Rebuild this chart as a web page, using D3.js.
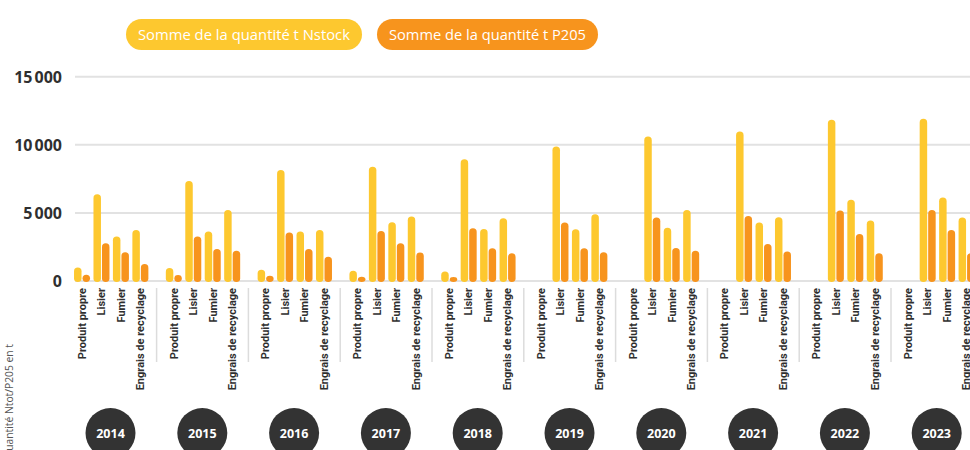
<!DOCTYPE html>
<html><head><meta charset="utf-8">
<script src="https://cdn.jsdelivr.net/npm/d3@7"></script>
<style>html,body{margin:0;padding:0;background:#fff;}svg{display:block;}</style>
</head><body><svg id="chart" width="970" height="450"></svg>
<script>
const years = [2014, 2015, 2016, 2017, 2018, 2019, 2020, 2021, 2022, 2023];
const categories = ["Produit propre", "Lisier", "Fumier", "Engrais de recyclage"];
const seriesNames = ["Somme de la quantité t Nstock", "Somme de la quantité t P205"];
const yTicks = [0, 5000, 10000, 15000];
const yTitle = "Quantité Ntot/P205 en t";

// Nstock values by category (one value per year)
const nProduitPropre = [1000, 950, 830, 760, 690, 0, 0, 0, 0, 0];
const nLisier = [6370, 7350, 8160, 8400, 8950, 9880, 10610, 10980, 11840, 11910];
const nFumier = [3260, 3630, 3630, 4310, 3820, 3800, 3920, 4290, 5960, 6130];
const nEngrais = [3750, 5220, 3750, 4730, 4610, 4900, 5220, 4680, 4440, 4660];
// P205 values by category (one value per year)
const pProduitPropre = [460, 440, 390, 320, 290, 0, 0, 0, 0, 0];
const pLisier = [2770, 3260, 3560, 3680, 3870, 4290, 4660, 4780, 5170, 5220];
const pFumier = [2110, 2350, 2350, 2770, 2400, 2400, 2430, 2720, 3460, 3750];
const pEngrais = [1250, 2230, 1790, 2090, 2030, 2110, 2230, 2160, 2030, 2050];

const nByCat = [nProduitPropre, nLisier, nFumier, nEngrais];
const pByCat = [pProduitPropre, pLisier, pFumier, pEngrais];
const colors = ["#FDC82F", "#F7941D"];

const data = [];
years.forEach((yr, yi) => {
  categories.forEach((c, ci) => {
    data.push({year: yr, cat: c, series: 0, value: nByCat[ci][yi]});
    data.push({year: yr, cat: c, series: 1, value: pByCat[ci][yi]});
  });
});

const svg = d3.select("#chart");
const groupStep = 91.8;
const x0 = d3.scaleBand().domain(years).range([65.3, 65.3 + groupStep * years.length]).padding(0);
const x1 = d3.scaleBand().domain(categories).range([0, x0.bandwidth()]).paddingInner(0).paddingOuter(0.36);
const bw = x1.bandwidth();
const x2 = d3.scaleBand().domain([0, 1]).range([bw / 2 - 8, bw / 2 + 8]).paddingInner(0.12).paddingOuter(0);
const y = d3.scaleLinear().domain([0, 15000]).range([281, 76.8]);

// gridlines
svg.append("g").selectAll("line").data(yTicks).join("line")
  .attr("x1", 75).attr("x2", 970)
  .attr("y1", d => y(d)).attr("y2", d => y(d))
  .attr("stroke", "#e2e2e2").attr("stroke-width", 2);

// y labels
const fmt = d => d3.format(",")(d).replace(/,/g, "\u202F");
svg.append("g").selectAll("text").data(yTicks).join("text")
  .attr("x", 62).attr("y", d => y(d)).attr("dy", "0.36em")
  .attr("text-anchor", "end")
  .attr("font-family", "Open Sans, sans-serif").attr("font-weight", 700).attr("font-size", 16)
  .attr("fill", "#2f2f2f")
  .text(d => fmt(d));

// bars
svg.append("g").selectAll("rect").data(data.filter(d => d.value > 0)).join("rect")
  .attr("x", d => x0(d.year) + x1(d.cat) + x2(d.series))
  .attr("y", d => y(d.value))
  .attr("width", x2.bandwidth())
  .attr("height", d => y(0) - y(d.value) + 1)
  .attr("rx", x2.bandwidth() / 2)
  .attr("fill", d => colors[d.series]);

// category labels
const lab = svg.append("g");
years.forEach(yr => {
  categories.forEach(c => {
    lab.append("text")
      .attr("transform", `translate(${x0(yr) + x1(c) + bw / 2 + 3.8},288) rotate(-90)`)
      .attr("text-anchor", "end")
      .attr("font-family", "Roboto, sans-serif").attr("font-weight", 700).attr("font-size", 11)
      .attr("fill", "#2f2f2f")
      .text(c);
  });
});

// separators
svg.append("g").selectAll("line").data(years.slice(1)).join("line")
  .attr("x1", d => x0(d) - 0.5).attr("x2", d => x0(d) - 0.5)
  .attr("y1", 288).attr("y2", 362)
  .attr("stroke", "#dcdcdc").attr("stroke-width", 1.5);

// year circles
const yc = svg.append("g").selectAll("g").data(years).join("g")
  .attr("transform", d => `translate(${x0(d) + x0.bandwidth() / 2 - 0.7},433)`);
yc.append("circle").attr("r", 25).attr("fill", "#333333");
yc.append("text").attr("text-anchor", "middle").attr("dy", "0.36em")
  .attr("font-family", "Open Sans, sans-serif").attr("font-weight", 700).attr("font-size", 12.5)
  .attr("fill", "#fff").text(d => d);

// y title
svg.append("text")
  .attr("transform", "translate(13,344) rotate(-90)")
  .attr("text-anchor", "end")
  .attr("font-family", "Open Sans, sans-serif").attr("font-size", 10.3)
  .attr("fill", "#555").text(yTitle);

// legend pills
const pills = [{x: 126, w: 236}, {x: 377, w: 221}];
const lg = svg.append("g").selectAll("g").data(seriesNames).join("g")
  .attr("transform", (d, i) => `translate(${pills[i].x},19)`);
lg.append("rect").attr("width", (d, i) => pills[i].w).attr("height", 31).attr("rx", 15.5)
  .attr("fill", (d, i) => colors[i]);
lg.append("text").attr("x", (d, i) => pills[i].w / 2).attr("y", 15.5).attr("dy", "0.36em")
  .attr("text-anchor", "middle")
  .attr("font-family", "Open Sans, sans-serif").attr("font-size", 14)
  .attr("textLength", (d, i) => pills[i].w - 24).attr("lengthAdjust", "spacingAndGlyphs")
  .attr("fill", "#fff").text(d => d);
</script></body></html>
